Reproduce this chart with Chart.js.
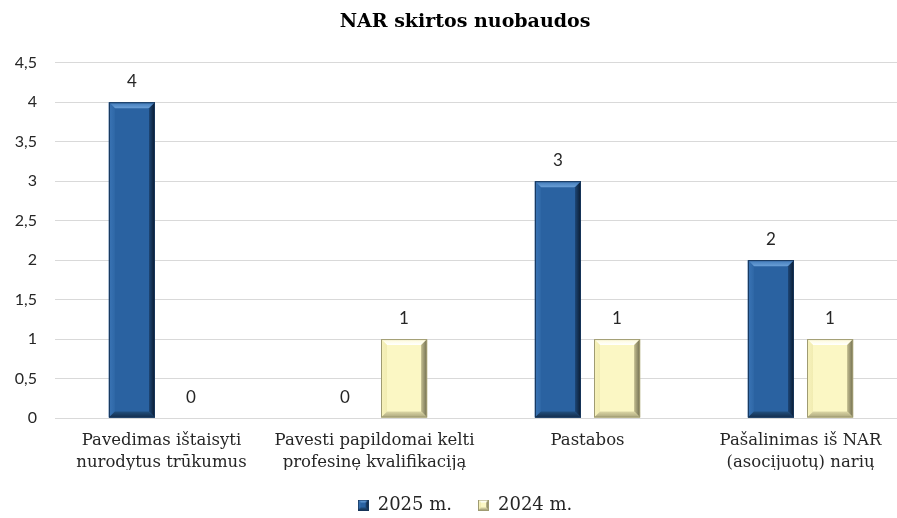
<!DOCTYPE html>
<html>
<head>
<meta charset="utf-8">
<script src="https://cdn.jsdelivr.net/npm/chart.js@4"></script>
<style>
html,body{margin:0;padding:0;background:#fff;overflow:hidden;}
#wrap{width:930px;height:524px;position:relative;}
</style>
</head>
<body>
<div id="wrap"><canvas id="c"></canvas></div>
<script>
const categories = [
  ["Pavedimas ištaisyti", "nurodytus trūkumus"],
  ["Pavesti papildomai kelti", "profesinę kvalifikaciją"],
  ["Pastabos"],
  ["Pašalinimas iš NAR", "(asocijuotų) narių"]
];
const seriesNames = ["2025 m.", "2024 m."];
const values2025 = [4, 0, 3, 2];
const values2024 = [0, 1, 1, 1];
const yMin = 0, yMax = 4.5, yStep = 0.5;

const palettes = [
  {main:'#2a62a1', top:['#6a9fd6','#3f78b8'], left:['#3a74b5','#2f68a7'], right:['#1d4676','#0a1a2e'], bottom:['#22507f','#132c4a'], line:'#163458'},
  {main:'#fbf7c4', top:['#ffffff','#fdfad6'], left:['#f7f2bc','#f1ecb2'], right:['#c2bd8f','#6f6c4f'], bottom:['#dcd7a6','#a9a47a'], line:'#9f9b72'}
];

function bevel(ctx, l, t, r, bo, p, b) {
  ctx.save();
  ctx.fillStyle = p.main; ctx.fillRect(l, t, r - l, bo - t);
  const poly = (pts, g) => { ctx.beginPath(); ctx.moveTo(pts[0][0], pts[0][1]); for (let i = 1; i < pts.length; i++) ctx.lineTo(pts[i][0], pts[i][1]); ctx.closePath(); ctx.fillStyle = g; ctx.fill(); };
  const lg = (x0, y0, x1, y1, c) => { const g = ctx.createLinearGradient(x0, y0, x1, y1); g.addColorStop(0, c[0]); g.addColorStop(1, c[1]); return g; };
  poly([[l,t],[r,t],[r-b,t+b],[l+b,t+b]], lg(0, t + b, 0, t, p.top));
  poly([[l,t],[l+b,t+b],[l+b,bo-b],[l,bo]], lg(l, 0, l + b, 0, p.left));
  poly([[r,t],[r-b,t+b],[r-b,bo-b],[r,bo]], lg(r - b, 0, r, 0, p.right));
  poly([[l,bo],[l+b,bo-b],[r-b,bo-b],[r,bo]], lg(0, bo - b, 0, bo, p.bottom));
  ctx.strokeStyle = p.line; ctx.lineWidth = 1;
  ctx.strokeRect(l + 0.5, t + 0.5, r - l - 1, bo - t - 1);
  ctx.restore();
}

function legendIcon(p) {
  const cv = document.createElement('canvas');
  cv.width = 11; cv.height = 11;
  bevel(cv.getContext('2d'), 0, 0, 11, 11, p, 3);
  return cv;
}

const bevelPlugin = {
  id: 'bevel',
  afterDatasetsDraw(chart) {
    const ctx = chart.ctx;
    chart.data.datasets.forEach((ds, di) => {
      const meta = chart.getDatasetMeta(di);
      meta.data.forEach((el) => {
        const pr = el.getProps(['x','y','base','width'], true);
        const l = pr.x - pr.width / 2, r = pr.x + pr.width / 2;
        const t = Math.min(pr.y, pr.base), bo = Math.max(pr.y, pr.base);
        if (bo - t < 1) return;
        bevel(ctx, l, t, r, bo, palettes[di], Math.min(6, (bo - t) / 2));
      });
    });
  }
};

const labelPlugin = {
  id: 'vlabels',
  afterDatasetsDraw(chart) {
    const ctx = chart.ctx;
    ctx.save();
    ctx.font = '17px Lato';
    ctx.fillStyle = '#262626';
    ctx.textAlign = 'center';
    ctx.textBaseline = 'bottom';
    chart.data.datasets.forEach((ds, di) => {
      const meta = chart.getDatasetMeta(di);
      meta.data.forEach((el, i) => {
        const pr = el.getProps(['x','y'], true);
        ctx.fillText(String(ds.data[i]), pr.x, pr.y - 12);
      });
    });
    ctx.restore();
  }
};

new Chart(document.getElementById('c'), {
  type: 'bar',
  data: {
    labels: categories,
    datasets: [
      {label: seriesNames[0], data: values2025, backgroundColor: palettes[0].main, borderWidth: 0,
       pointStyle: legendIcon(palettes[0]), categoryPercentage: 0.555, barPercentage: 0.78},
      {label: seriesNames[1], data: values2024, backgroundColor: palettes[1].main, borderWidth: 0,
       pointStyle: legendIcon(palettes[1]), categoryPercentage: 0.555, barPercentage: 0.78}
    ]
  },
  options: {
    responsive: true,
    maintainAspectRatio: false,
    animation: false,
    layout: {padding: 0},
    plugins: {
      title: {display: true, text: 'NAR skirtos nuobaudos', color: '#000',
        font: {family: 'DejaVu Serif', size: 19, weight: 'bold'}, padding: {top: 11, bottom: 29}},
      legend: {position: 'bottom',
        labels: {usePointStyle: true, boxWidth: 11, boxHeight: 11, padding: 26, color: '#262626',
          font: {family: 'DejaVu Serif', size: 18}}},
      tooltip: {enabled: false}
    },
    scales: {
      x: {
        afterFit(scale) { scale.height = 52; },
        grid: {display: false, drawTicks: false},
        border: {display: true, color: '#d9d9d9'},
        ticks: {color: '#262626', font: {family: 'DejaVu Serif', size: 16.5, lineHeight: 1.36}, padding: 11, maxRotation: 0, autoSkip: false}
      },
      y: {
        min: yMin, max: yMax,
        afterFit(scale) { scale.width = 55; },
        grid: {color: '#d9d9d9', drawTicks: false},
        border: {display: false},
        ticks: {stepSize: yStep, padding: 18, color: '#262626', font: {family: 'Lato', size: 16},
          callback: (v) => String(v).replace('.', ',')}
      },
      yRight: {
        position: 'right',
        display: true,
        afterFit(scale) { scale.width = 23; },
        grid: {drawOnChartArea: false, drawTicks: false},
        border: {display: false},
        ticks: {display: false}
      }
    }
  },
  plugins: [bevelPlugin, labelPlugin]
});
</script>
</body>
</html>
